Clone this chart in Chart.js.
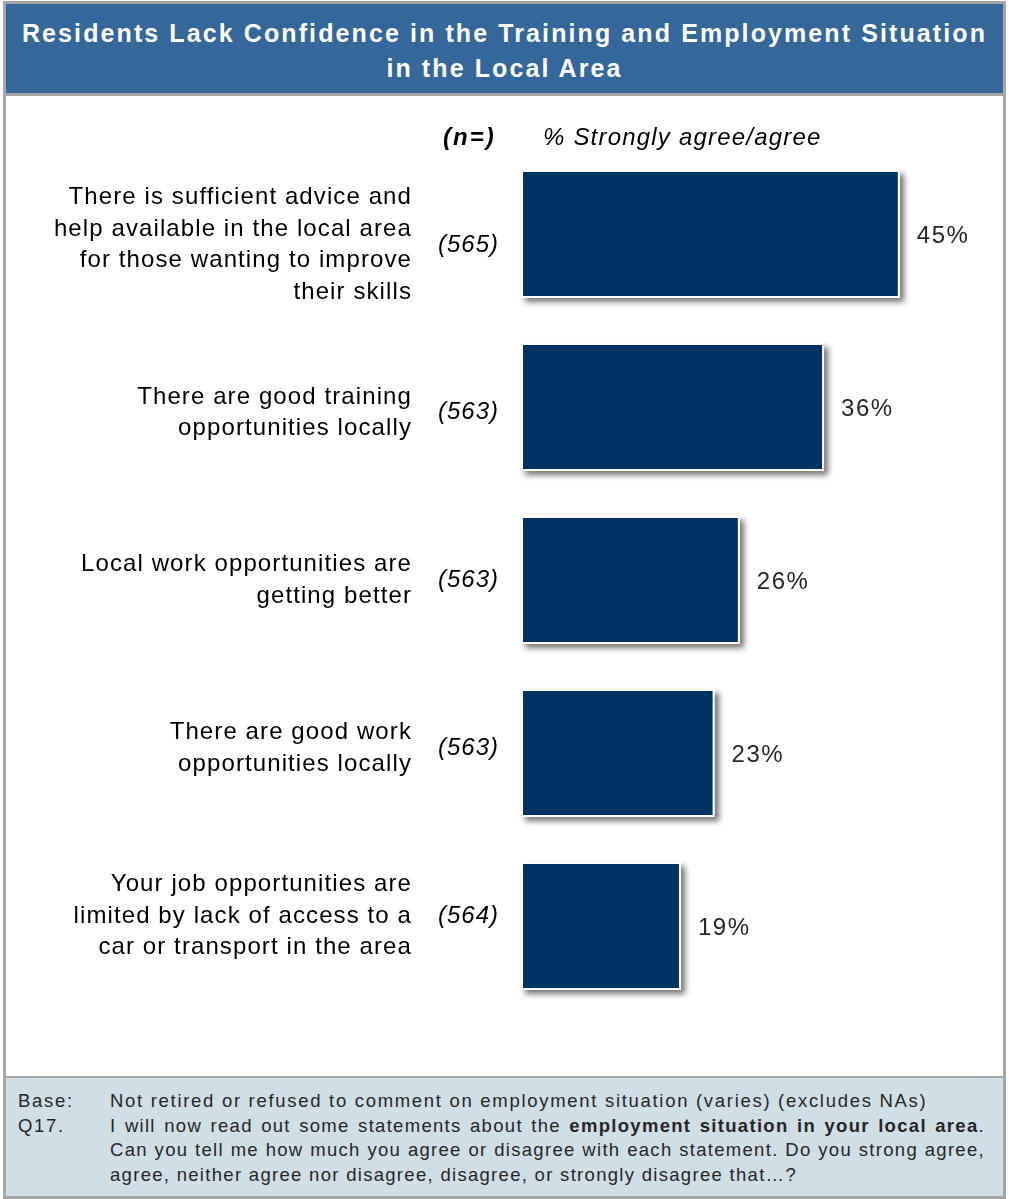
<!DOCTYPE html>
<html>
<head>
<meta charset="utf-8">
<script src="https://cdn.jsdelivr.net/npm/chart.js@4.4.1/dist/chart.umd.min.js"></script>
<style>
  html, body { margin: 0; padding: 0; background: #ffffff; }
  body { width: 1009px; height: 1199px; position: relative; overflow: hidden;
         font-family: "Liberation Sans", Arial, sans-serif; }
  #frame { position: absolute; left: 3px; top: 1px; width: 1003px; height: 1198px;
           border: 3px solid #a6a6a6; box-sizing: border-box; }
  #header { position: absolute; left: 6px; top: 4px; width: 997px; height: 77px;
            background: #34679a; border-bottom: 3px solid #a6a6a6;
            color: #ffffff; font-weight: bold; font-size: 25px; letter-spacing: 2.1px;
            line-height: 35px; text-align: center; padding-top: 12px; }
  #header div { height: 35px; white-space: nowrap; }
  #chartBox { position: absolute; left: 6px; top: 96px; width: 997px; height: 980px; }
  .colHead { position: absolute; top: 121px; font-size: 24px; font-style: italic;
             color: #000; line-height: 32px; white-space: nowrap; }
  #footer { position: absolute; left: 6px; top: 1076px; width: 997px; height: 118px;
            background: #d0dee6; border-top: 2px solid #a6a6a6;
            font-size: 18.5px; color: #262626; line-height: 24.6px; }
  #footer .lab { position: absolute; left: 12px; letter-spacing: 1.7px; }
  #footer .txt { position: absolute; left: 104px; white-space: nowrap; letter-spacing: 1.7px; }
  #footer .par { position: absolute; left: 104px; width: 875px; letter-spacing: 1.3px; }
  #footer .par div { height: 24.6px; white-space: nowrap; }
  #footer .par .j { text-align: justify; text-align-last: justify; }
</style>
</head>
<body>
<div id="frame"></div>
<div id="header">
  <div>Residents Lack Confidence in the Training and Employment Situation</div>
  <div>in the Local Area</div>
</div>
<div id="chartBox"><canvas id="chart" width="997" height="980"></canvas></div>
<div class="colHead" style="left:443px;font-weight:bold;letter-spacing:2px;">(n=)</div>
<div class="colHead" style="left:543px;letter-spacing:1.2px;">% Strongly agree/agree</div>
<div id="footer">
  <span class="lab" style="top:11px;">Base:</span>
  <span class="txt" style="top:11px;">Not retired or refused to comment on employment situation (varies) (excludes NAs)</span>
  <span class="lab" style="top:35.6px;">Q17.</span>
  <div class="par" style="top:35.6px;">
    <div class="j">I will now read out some statements about the <b>employment situation in your local area</b>.</div>
    <div class="j">Can you tell me how much you agree or disagree with each statement. Do you strong agree,</div>
    <div>agree, neither agree nor disagree, disagree, or strongly disagree that…?</div>
  </div>
</div>

<script>
// Statements (split into the lines they are printed on)
const statements = [
  ["There is sufficient advice and", "help available in the local area", "for those wanting to improve", "their skills"],
  ["There are good training", "opportunities locally"],
  ["Local work opportunities are", "getting better"],
  ["There are good work", "opportunities locally"],
  ["Your job opportunities are", "limited by lack of access to a", "car or transport in the area"]
];
// Base sizes per statement
const baseSizes = [565, 563, 563, 563, 564];
// % strongly agree / agree
const agreePct = [45, 36, 26, 23, 19];

// Range of the statement-label axis (labels sit at 0..4)
const labelAxisMin = -0.581;
const labelAxisMax = 4.575;

const barColor = '#003363';
const labelFont = '"Liberation Sans", Arial, sans-serif';

// Slightly tracked text for the statement labels
const tracking = {
  id: 'tracking',
  beforeDraw(chart) { chart.ctx.letterSpacing = '1.1px'; }
};

// Soft drop shadow behind each bar, then value and base-size labels
const barDecor = {
  id: 'barDecor',
  beforeDatasetsDraw(chart) {
    const ctx = chart.ctx;
    const meta = chart.getDatasetMeta(0);
    ctx.save();
    ctx.shadowColor = 'rgba(0,0,0,0.55)';
    ctx.shadowBlur = 6;
    ctx.shadowOffsetX = 4;
    ctx.shadowOffsetY = 4;
    ctx.fillStyle = '#ffffff';
    meta.data.forEach(bar => {
      const p = bar.getProps(['x', 'y', 'base', 'height'], true);
      ctx.fillRect(p.base, p.y - p.height / 2, p.x - p.base, p.height);
    });
    ctx.restore();
  },
  afterDatasetsDraw(chart) {
    const ctx = chart.ctx;
    const meta = chart.getDatasetMeta(0);
    const yLab = chart.scales.yLabels;
    ctx.save();
    ctx.textBaseline = 'middle';
    ctx.fillStyle = '#262626';
    ctx.font = '24px ' + labelFont;
    ctx.letterSpacing = '1.5px';
    ctx.textAlign = 'left';
    meta.data.forEach((bar, i) => {
      const p = bar.getProps(['x', 'y'], true);
      ctx.fillText(agreePct[i] + '%', p.x + 17, p.y + 2);
    });
    ctx.fillStyle = '#000000';
    ctx.font = 'italic 24px ' + labelFont;
    ctx.letterSpacing = '1px';
    ctx.textAlign = 'right';
    baseSizes.forEach((n, i) => {
      ctx.fillText('(' + n + ')', 493, yLab.getPixelForValue(i));
    });
    ctx.restore();
  }
};

new Chart(document.getElementById('chart'), {
  type: 'bar',
  data: {
    labels: statements.map(s => s.join(' ')),
    datasets: [{
      data: agreePct,
      backgroundColor: barColor,
      borderColor: '#ffffff',
      borderWidth: 2,
      borderSkipped: false,
      barPercentage: 0.74,
      categoryPercentage: 1.0
    }]
  },
  options: {
    indexAxis: 'y',
    responsive: false,
    animation: false,
    events: [],
    layout: { padding: { left: 0, right: 19, top: 51.5, bottom: 63.5 } },
    plugins: { legend: { display: false }, tooltip: { enabled: false }, title: { display: false } },
    scales: {
      x: { min: 0, max: 55, display: false },
      y: { display: false },
      // statement labels, spaced on their own axis
      yLabels: {
        type: 'linear',
        position: 'left',
        reverse: true,
        offset: false,
        grid: { display: false, drawTicks: false, offset: false },
        border: { display: false },
        ticks: {
          autoSkip: false,
          padding: 109,
          color: '#000000',
          font: { family: labelFont, size: 24, lineHeight: 1.32 },
          callback: v => statements[v] || ''
        },
        afterBuildTicks: s => {
          s.min = labelAxisMin;
          s.max = labelAxisMax;
          s.ticks = statements.map((_, i) => ({ value: i }));
        },
        afterFit: s => {
          s.width = 515;
          s.paddingTop = 0;
          s.paddingBottom = 0;
        }
      }
    }
  },
  plugins: [tracking, barDecor]
});
</script>
</body>
</html>
